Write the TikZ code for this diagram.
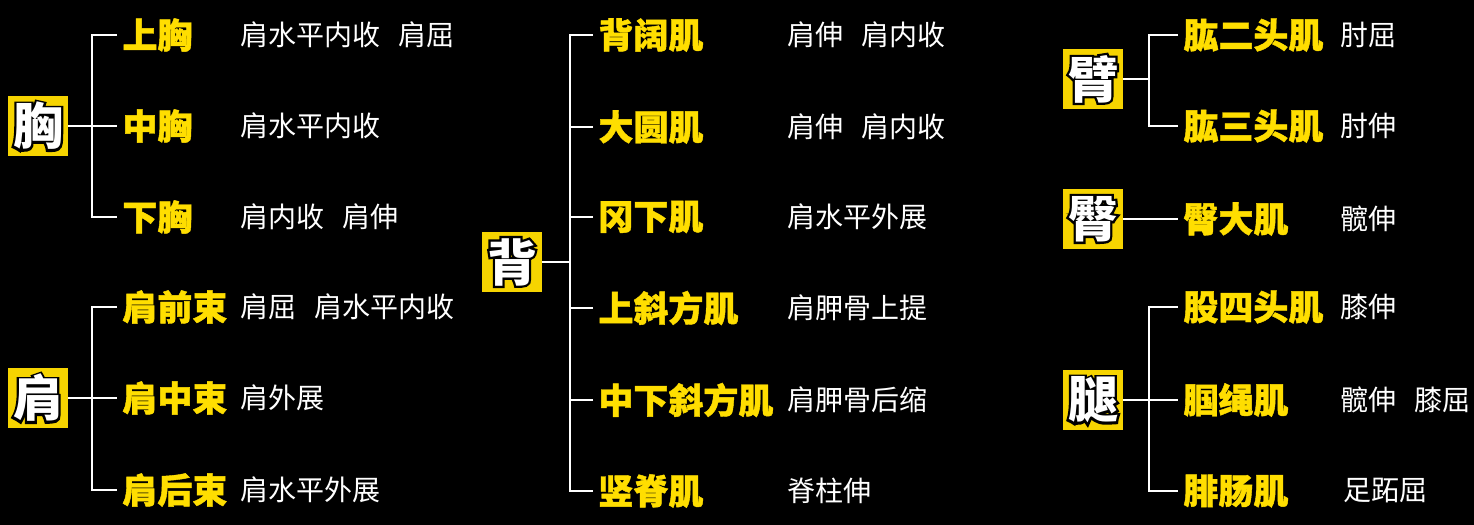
\documentclass[tikz,border=0pt]{standalone}
\usepackage{xcolor}
\usepackage{fontspec}
\usepackage{tikz}
\usetikzlibrary{positioning,calc}

\newfontfamily\cjk{Noto Sans CJK SC}
\newfontfamily\cjkfat{Noto Sans CJK SC}[FakeBold=9]
\newfontfamily\cjkheavy{Noto Sans CJK SC}[FakeBold=1.2]

\definecolor{boxyellow}{RGB}{246,212,0}
\definecolor{muscleyellow}{RGB}{255,222,0}

\newcommand{\rimchar}[1]{\makebox[0pt][l]{\color{black}\cjkfat\bfseries #1}{\color{white}#1}}
\newcommand{\actgap}{\hspace{0.65em}}

\tikzset{
  catbox/.style={fill=boxyellow, minimum size=30pt, inner sep=0pt, font=\cjk\bfseries\fontsize{25}{25}\selectfont},
  muscle/.style={anchor=west, text=muscleyellow, inner sep=2.5pt, font=\cjkheavy\bfseries\fontsize{17.5}{18}\selectfont},
  action/.style={anchor=west, text=white, inner sep=0pt, font=\cjk\fontsize{14}{15}\selectfont},
  branch/.style={draw=white, line width=1.4pt}
}

\begin{document}
\begin{tikzpicture}[x=0.5pt, y=-0.5pt]
    \fill[black] (0,0) rectangle (1474,525);

    % chest
    \node[catbox] (xiong) at (38,126) {\rimchar{胸}};
    \node[muscle] (xiong1) at (117,35) {上胸};
    \node[muscle] (xiong2) at (117,126) {中胸};
    \node[muscle] (xiong3) at (117,217) {下胸};
    \node[action] (xa1) at (240,35) {肩水平内收\actgap 肩屈};
    \node[action] (xa2) at (240,126) {肩水平内收};
    \node[action] (xa3) at (240,217) {肩内收\actgap 肩伸};
    \draw[branch] (xiong1.west) -- ++(-25,0) |- (xiong3.west);
    \draw[branch] (xiong.east) -- (xiong2.west);

    % shoulder
    \node[catbox] (jian) at (38,398) {\rimchar{肩}};
    \node[muscle] (jian1) at (117,307) {肩前束};
    \node[muscle] (jian2) at (117,398) {肩中束};
    \node[muscle] (jian3) at (117,490) {肩后束};
    \node[action] (ja1) at (240,307) {肩屈\actgap 肩水平内收};
    \node[action] (ja2) at (240,398) {肩外展};
    \node[action] (ja3) at (240,490) {肩水平外展};
    \draw[branch] (jian1.west) -- ++(-25,0) |- (jian3.west);
    \draw[branch] (jian.east) -- (jian2.west);

    % back
    \node[catbox] (bei) at (512,262) {\rimchar{背}};
    \node[muscle] (bei1) at (593,35) {背阔肌};
    \node[muscle] (bei2) at (593,127) {大圆肌};
    \node[muscle] (bei3) at (593,217) {冈下肌};
    \node[muscle] (bei4) at (593,308) {上斜方肌};
    \node[muscle] (bei5) at (593,400) {中下斜方肌};
    \node[muscle] (bei6) at (593,491) {竖脊肌};
    \node[action] (ba1) at (787,35) {肩伸\actgap 肩内收};
    \node[action] (ba2) at (787,127) {肩伸\actgap 肩内收};
    \node[action] (ba3) at (787,217) {肩水平外展};
    \node[action] (ba4) at (787,308) {肩胛骨上提};
    \node[action] (ba5) at (787,400) {肩胛骨后缩};
    \node[action] (ba6) at (787,491) {脊柱伸};
    \draw[branch] (bei1.west) -- ++(-23,0) coordinate (bei-spine) |- (bei6.west);
    \foreach \i in {2,...,5} {
        \draw[branch] (bei\i.west) -- (bei\i.west -| bei-spine);
    }
    \draw[branch] (bei.east) -- (bei.east -| bei-spine);

    % arm
    \node[catbox] (bi) at (1093,79) {\rimchar{臂}};
    \node[muscle] (bi1) at (1178,35) {肱二头肌};
    \node[muscle] (bi2) at (1178,126) {肱三头肌};
    \node[action] (bia1) at (1340,35) {肘屈};
    \node[action] (bia2) at (1340,126) {肘伸};
    \draw[branch] (bi1.west) -- ++(-29,0) coordinate (bi-spine) |- (bi2.west);
    \draw[branch] (bi.east) -- (bi.east -| bi-spine);

    % glutes
    \node[catbox] (tun) at (1093,219) {\rimchar{臀}};
    \node[muscle] (tun1) at (1178,219) {臀大肌};
    \node[action] (tua1) at (1340,219) {髋伸};
    \draw[branch] (tun.east) -- (tun1.west);

    % leg
    \node[catbox] (tui) at (1093,400) {\rimchar{腿}};
    \node[muscle] (tui1) at (1178,307) {股四头肌};
    \node[muscle] (tui2) at (1178,400) {腘绳肌};
    \node[muscle] (tui3) at (1178,491) {腓肠肌};
    \node[action] (tua2) at (1340,307) {膝伸};
    \node[action] (tua3) at (1340,400) {髋伸\actgap 膝屈};
    \node[action] (tua4) at (1343,491) {足跖屈};
    \draw[branch] (tui1.west) -- ++(-29,0) |- (tui3.west);
    \draw[branch] (tui.east) -- (tui2.west);
\end{tikzpicture}
\end{document}
